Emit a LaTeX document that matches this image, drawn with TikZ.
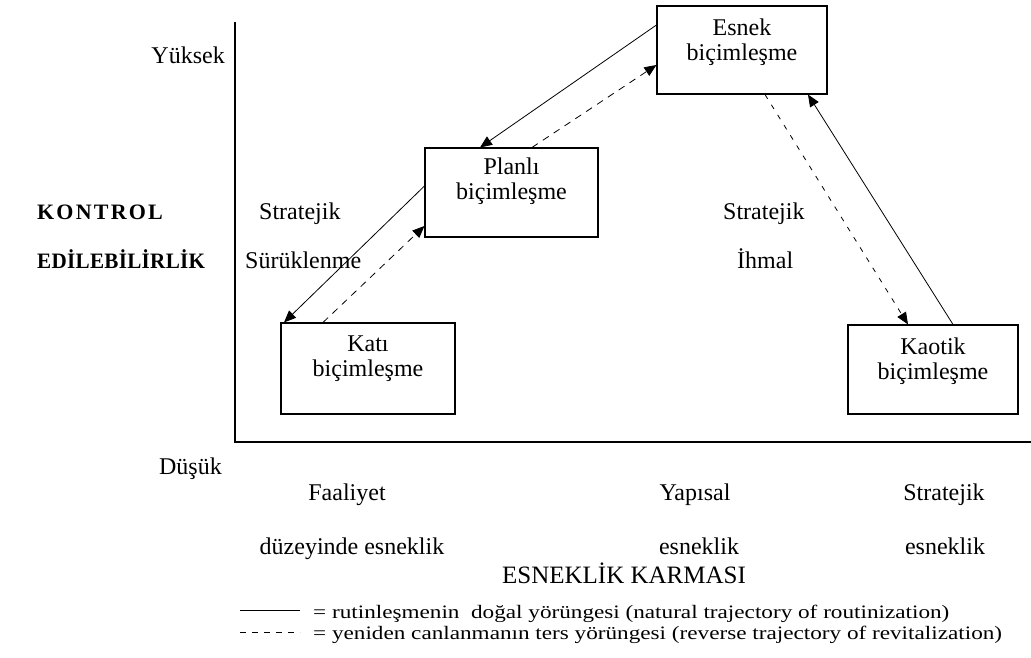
\documentclass[tikz,border=0pt]{standalone}
\usepackage{fontspec}
\setmainfont{Liberation Serif}
\newfontfamily\legfont[FakeStretch=1.22]{Liberation Serif}
\newfontfamily\narrowfont[FakeStretch=0.96]{Liberation Serif}
\usetikzlibrary{arrows.meta,calc}
\begin{document}
\begin{tikzpicture}[x=1pt,y=-1pt,
  box/.style={draw,line width=1.1pt,inner sep=0pt},
  boxtext/.style={anchor=north,align=center,inner sep=0pt,font=\fontsize{24}{25}\selectfont},
  lbl/.style={inner sep=0pt,font=\fontsize{24}{25}\selectfont},
  big/.style={inner sep=0pt,anchor=base west,font=\fontsize{22}{25}\selectfont\bfseries},
  leg/.style={inner sep=0pt,anchor=base west,font=\legfont\fontsize{19}{20}\selectfont},
  tip/.style={-{Triangle[length=12pt,width=10pt]}},
  nat/.style={tip,line width=0.8pt},
  rev/.style={tip,line width=0.8pt,dash pattern=on 7pt off 6pt},
  axis/.style={line width=1.3pt}]
\useasboundingbox (0,0) rectangle (1031,657);
% axes
\coordinate (ytop) at (235,22);
\coordinate (orig) at (235,442);
\coordinate (xend) at (1031,442);
\draw[axis] (ytop) -- (orig) -- (xend);
% boxes
\node[box,minimum width=170,minimum height=88] (esnek) at (742,50) {};
\node[box,minimum width=173,minimum height=89] (planli) at (511.5,192.5) {};
\node[box,minimum width=174,minimum height=91] (kati) at (368,368.5) {};
\node[box,minimum width=170,minimum height=89] (kaotik) at (933,369.5) {};
\node[boxtext] (esnekt) at ($(esnek.north)+(0,13)$) {Esnek\\biçimleşme};
\node[boxtext] (planlit) at ($(planli.north)+(0,10)$) {Planlı\\biçimleşme};
\node[boxtext] (katit) at ($(kati.north)+(0,13)$) {Katı\\biçimleşme};
\node[boxtext] (kaotikt) at ($(kaotik.north)+(0,13)$) {Kaotik\\biçimleşme};
% connectors
\draw[nat] (esnek.west |- 0,25) -- (planli.north -| 480,0);
\draw[rev] (planli.north -| 532,0) -- (esnek.west |- 0,65);
\draw[nat] (planli.west |- 0,186) -- (kati.north -| 284,0);
\draw[rev] (kati.north -| 323,0) -- (planli.west |- 0,226);
\draw[rev,dash pattern=on 5pt off 7pt] (esnek.south -| 765,0) -- (kaotik.north -| 908,0);
\draw[nat] (kaotik.north -| 953,0) -- (esnek.south -| 808,0);
% labels
\node[lbl,anchor=base east] (yuksek) at (225,63) {Yüksek};
\node[lbl,anchor=base east] (dusuk) at (222,474) {Düşük};
\node[big] (kontrol) at (37,219) {K\kern2.2ptO\kern2.2ptN\kern2.2ptT\kern2.2ptR\kern2.2ptO\kern2.2ptL};
\node[big,font=\narrowfont\fontsize{22}{25}\selectfont\bfseries] (edil) at (37,268) {E\kern0.3ptD\kern0.3ptİ\kern0.3ptL\kern0.3ptE\kern0.3ptB\kern0.3ptİ\kern0.3ptL\kern0.3ptİ\kern0.3ptR\kern0.3ptL\kern0.3ptİ\kern0.3ptK};
\node[lbl,anchor=base west] (str1) at (259,219) {Stratejik};
\node[lbl,anchor=base west] (surukle) at (245,268) {Sürüklenme};
\node[lbl,anchor=base west] (str2) at (723,219) {Stratejik};
\node[lbl,anchor=base west] (ihmal) at (737,268) {İhmal};
\node[lbl,anchor=base] (faal) at (347,500) {Faaliyet};
\node[lbl,anchor=base] (duzey) at (352,554) {düzeyinde esneklik};
\node[lbl,anchor=base] (yapi) at (695,500) {Yapısal};
\node[lbl,anchor=base] (esn1) at (699,554) {esneklik};
\node[lbl,anchor=base] (str3) at (944,500) {Stratejik};
\node[lbl,anchor=base] (esn2) at (945,554) {esneklik};
\node[lbl,anchor=base,font=\fontsize{25}{26}\selectfont] (karma) at (624,583) {ESNEKLİK KARMASI};
% legend
\coordinate (l1a) at (240,610);
\coordinate (l1b) at (300,610);
\coordinate (l2a) at (240,632);
\coordinate (l2b) at (300,632);
\draw[line width=0.8pt] (l1a) -- (l1b);
\draw[line width=0.8pt,dash pattern=on 6pt off 6pt] (l2a) -- (l2b);
\node[leg] (leg1) at (313,618) {= rutinleşmenin\ \ doğal yörüngesi (natural trajectory of routinization)};
\node[leg] (leg2) at (313,639) {= yeniden canlanmanın ters yörüngesi (reverse trajectory of revitalization)};
\end{tikzpicture}
\end{document}
